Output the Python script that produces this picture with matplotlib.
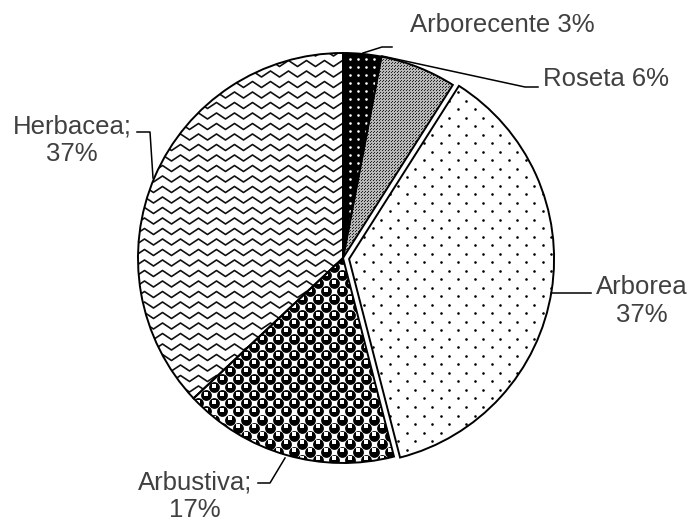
import numpy as np
import matplotlib.pyplot as plt

plt.rcParams["font.family"] = ["Liberation Sans", "DejaVu Sans"]

# datos del gráfico
categories = ["Arborecente", "Roseta", "Arborea", "Arbustiva", "Herbacea"]
shares = [3, 6, 37, 17, 37]
separators = [" ", " ", "\n", ";\n", ";\n"]
explode = [0, 0, 0.03, 0, 0]
face_colors = ["black", "#b8b8b8", "white", "white", "white"]

# geometria en pixeles de la figura (centro y radio del pastel)
CX, CY, R = 343, 258, 205
W, H = 692, 521


def px(x, y):
    return ((x - CX) / R, (CY - y) / R)


fig = plt.figure(figsize=(W / 100, H / 100), dpi=100)
ax = fig.add_axes([0, 0, 1, 1])

wedges, _ = ax.pie(shares, explode=explode, startangle=90, counterclock=False,
                   colors=face_colors, wedgeprops={"linewidth": 0, "zorder": 1})


def dots(wedge, step_x, step_y, stagger, size, color, marker="o", dy=0.0):
    xs, ys = [], []
    for i, y in enumerate(np.arange(-1.1, 1.1, step_y / R)):
        off = step_x / 2 / R if (stagger and i % 2) else 0
        row = np.arange(-1.1, 1.15, step_x / R) + off
        xs.append(row)
        ys.append(np.full_like(row, y + dy / R))
    sc = ax.scatter(np.concatenate(xs), np.concatenate(ys), s=(size * 0.72) ** 2,
                    c=color, marker=marker, linewidths=0, zorder=2)
    sc.set_clip_path(wedge)


def zigzag(wedge, period, gap, amp, color, lw):
    for y in np.arange(-1.1, 1.1, gap / R):
        x = np.arange(-1.1, 1.1, period / 2 / R)
        yy = y + np.where(np.arange(len(x)) % 2, amp / R, -amp / R)
        line, = ax.plot(x, yy, color=color, lw=lw, zorder=2)
        line.set_clip_path(wedge)


# texturas de cada sector
dots(wedges[0], 8, 8, False, 2.6, "white")
dots(wedges[1], 3, 1.5, True, 1.0, "#222222", marker="s")
dots(wedges[2], 17, 8.5, True, 2.6, "black")
dots(wedges[3], 16, 8, True, 10.8, "black")
dots(wedges[3], 16, 8, True, 3.2, "white", marker="s", dy=1.5)
zigzag(wedges[4], 18, 10.5, 3.0, "#101010", 1.2)

# contornos
ax.pie(shares, explode=explode, startangle=90, counterclock=False,
       wedgeprops={"fill": False, "edgecolor": "black", "linewidth": 1.4, "zorder": 3})

# etiquetas y lineas guia
label_pos = [(502, 25), (606, 79), (642, 301), (195, 496), (72, 140)]
leaders = [
    [(363, 53), (382, 47), (392, 47)],
    [(382, 56), (525, 87), (538, 87)],
    [(551, 293), (591, 293)],
    [(285, 458), (270, 483), (258, 483)],
    [(153, 178), (150, 132), (137, 132)],
]
for cat, share, sep, pos, lead in zip(categories, shares, separators, label_pos, leaders):
    ax.text(*px(*pos), f"{cat}{sep}{share}%", ha="center", va="center",
            fontsize=18.5, color="#404040", linespacing=1.2, zorder=4)
    pts = np.array([px(*p) for p in lead])
    ax.plot(pts[:, 0], pts[:, 1], color="black", lw=1.1, zorder=4)

ax.set_aspect("equal")
ax.set_xlim(-CX / R, (W - CX) / R)
ax.set_ylim((CY - H) / R, CY / R)
ax.axis("off")

fig.savefig("out.png", dpi=100)
